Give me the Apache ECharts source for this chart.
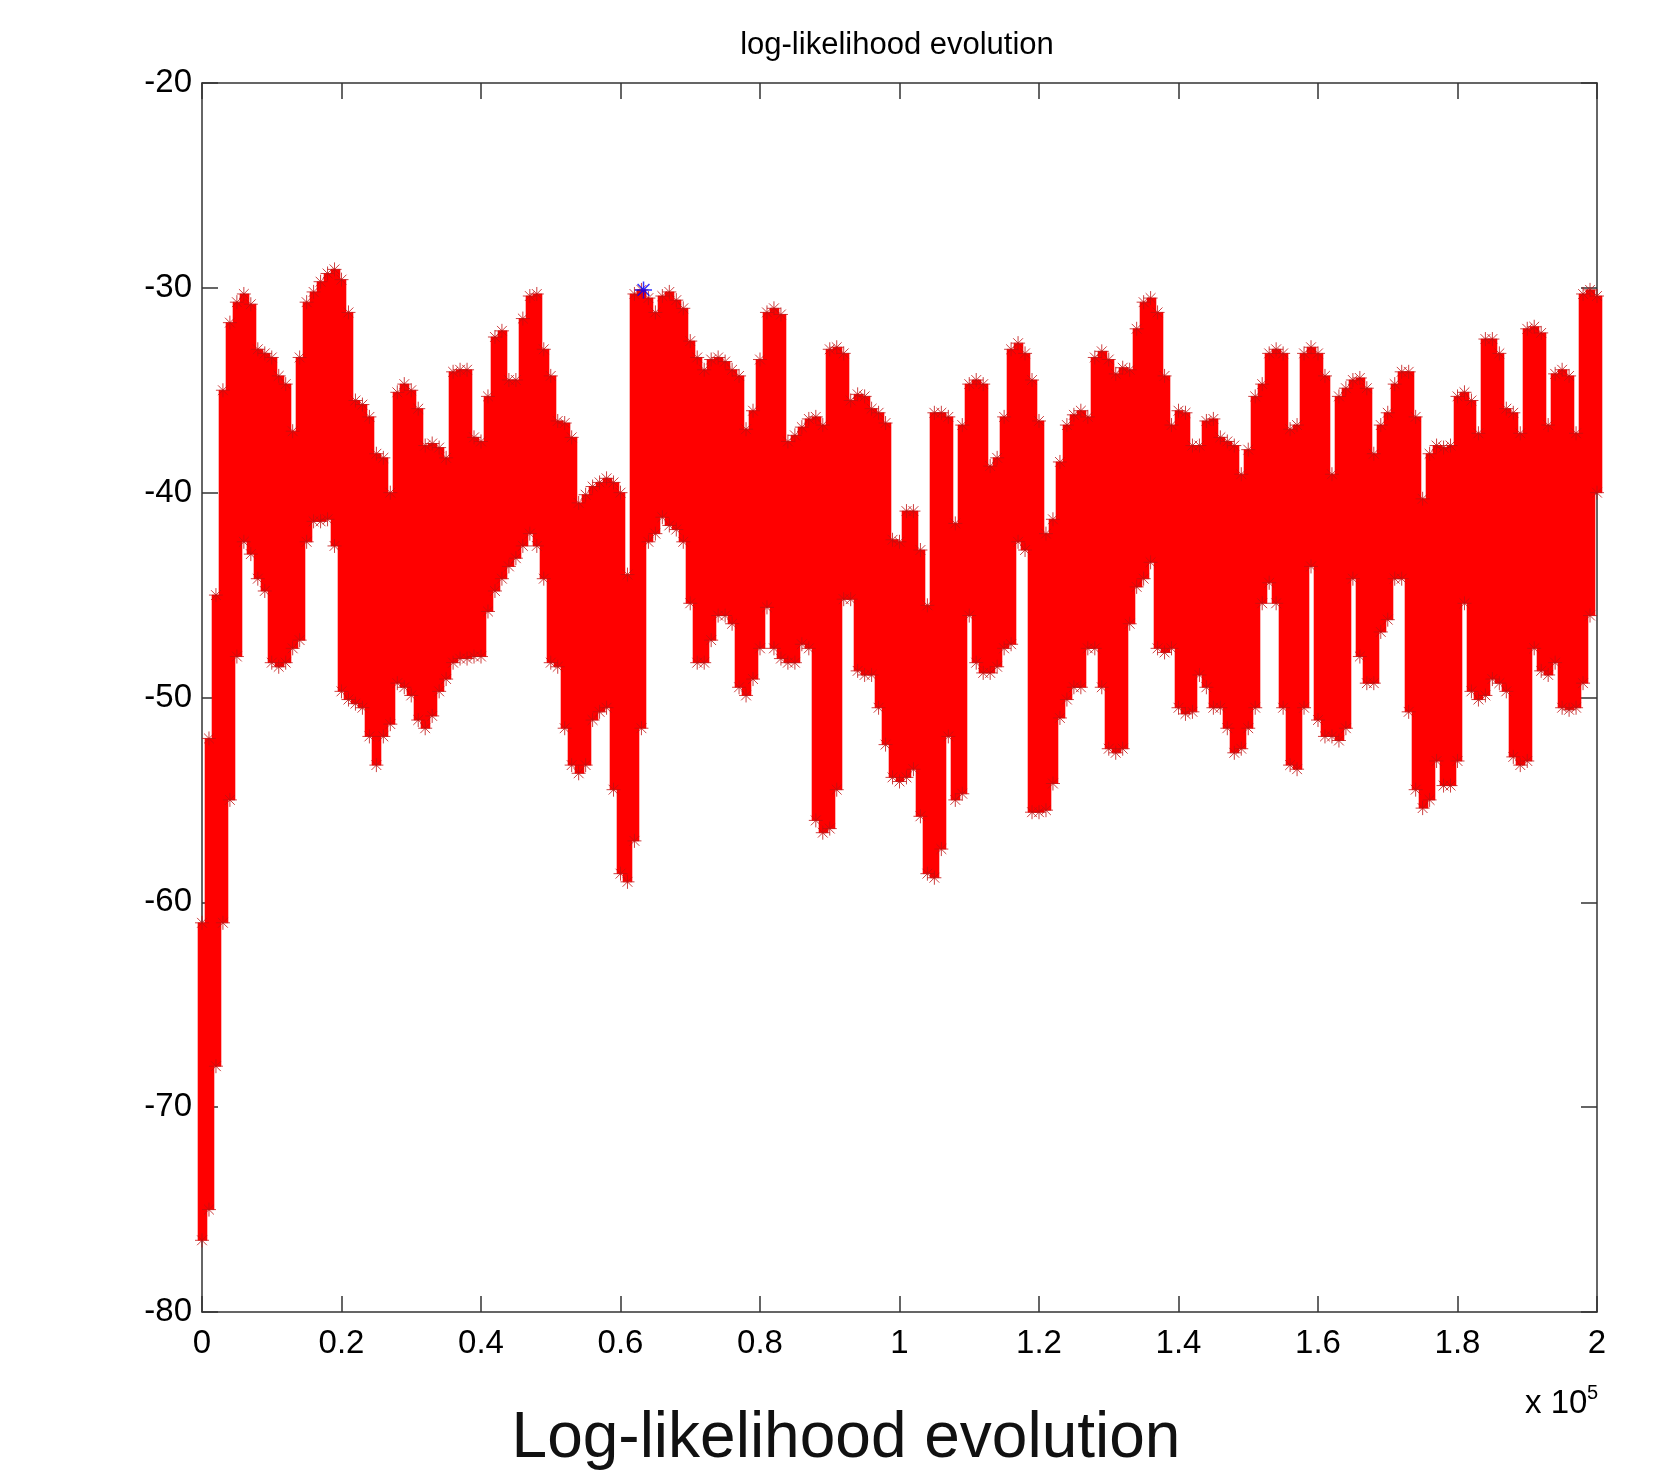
<!DOCTYPE html>
<html>
<head>
<meta charset="utf-8">
<script src="https://cdn.jsdelivr.net/npm/echarts@6/dist/echarts.min.js"></script>
<style>
html,body{margin:0;padding:0;background:#fff;}
#chart{width:1654px;height:1482px;}
</style>
</head>
<body>
<div id="chart"></div>
<script>
// Sampling grid: one sample every 1000 iterations (0 .. 200000)
const STEP = 1000;
const iterations = Array.from({length: 201}, (_, k) => k * STEP);

// Upper envelope of the log-likelihood trace
const upperLL = [
 -61,-52,-45,-35,-31.7,-30.7,-30.3,-30.8,-33,-33.2,
 -33.4,-34.3,-34.7,-37,-33.4,-30.7,-30.2,-29.7,-29.3,-29.1,
 -29.6,-31.2,-35.5,-35.7,-36.3,-38.1,-38.3,-40,-35.1,-34.7,
 -35,-35.9,-37.7,-37.6,-37.8,-38.3,-34.1,-34,-34,-37.3,
 -37.5,-35.3,-32.4,-32.1,-34.5,-34.5,-31.5,-30.4,-30.3,-33,
 -34.3,-36.5,-36.6,-37.3,-40.5,-40.1,-39.7,-39.5,-39.3,-39.5,
 -40,-44,-30.3,-30.1,-30.5,-31.2,-30.4,-30.2,-30.6,-31,
 -32.6,-33.4,-34,-33.5,-33.4,-33.6,-34,-34.3,-36.9,-36,
 -33.5,-31.2,-31.0,-31.3,-37.5,-37.2,-36.8,-36.4,-36.3,-36.7,
 -33,-32.9,-33.2,-35.5,-35.2,-35.3,-35.9,-36.1,-36.6,-42.3,
 -42.4,-40.9,-40.9,-42.8,-45.5,-36.1,-36.1,-36.3,-41.5,-36.7,
 -34.7,-34.5,-34.7,-38.7,-38.3,-36.3,-33,-32.7,-33.2,-34.5,
 -36.5,-42,-41.3,-38.5,-36.7,-36.2,-36,-36.3,-33.4,-33.1,
 -33.5,-34.2,-33.9,-34,-32,-30.7,-30.5,-31.2,-34.3,-36.7,
 -36,-36.1,-37.7,-37.7,-36.5,-36.4,-37.3,-37.5,-37.7,-39.1,
 -37.9,-35.3,-34.7,-33.2,-33,-33.2,-36.9,-36.7,-33.2,-32.9,
 -33.2,-34.3,-39.1,-35.3,-34.9,-34.5,-34.4,-34.9,-38.1,-36.7,
 -36.1,-34.7,-34.1,-34.1,-36.3,-40.3,-38.1,-37.7,-37.8,-37.7,
 -35.3,-35.1,-35.5,-37.1,-32.5,-32.5,-33.2,-35.9,-36.1,-37.1,
 -32,-31.9,-32.2,-36.7,-34.2,-34,-34.3,-37.1,-30.3,-30.1,
 -30.4
];

// Lower envelope of the log-likelihood trace
const lowerLL = [
 -76.5,-75,-68,-61,-55,-48,-42.4,-43,-44.2,-44.8,
 -48.3,-48.5,-48.3,-47.6,-47.2,-42.4,-41.4,-41.4,-41.3,-42.6,
 -49.7,-50.1,-50.3,-50.5,-51.9,-53.3,-51.9,-51.3,-49.3,-49.5,
 -49.9,-51.1,-51.5,-50.9,-49.7,-49.1,-48.3,-48.1,-48.1,-48,
 -48,-45.8,-44.8,-44.2,-43.6,-43.2,-42.6,-42,-42.6,-44.2,
 -48.3,-48.5,-51.5,-53.3,-53.7,-53.3,-51.1,-50.7,-50.5,-54.5,
 -58.6,-59,-57,-51.5,-42.4,-42,-41.2,-41.6,-41.8,-42.4,
 -45.4,-48.3,-48.3,-47.2,-46,-46,-46.4,-49.5,-49.9,-49.1,
 -47.6,-45.6,-47.6,-48.1,-48.3,-48.3,-47.4,-47.6,-56,-56.6,
 -56.4,-54.5,-45.2,-45.2,-48.7,-48.9,-48.9,-50.5,-52.3,-53.9,
 -54.1,-53.9,-53.5,-55.8,-58.6,-58.8,-57.4,-51.9,-55,-54.7,
 -46,-48.3,-48.8,-48.8,-48.5,-47.6,-47.4,-42.4,-42.8,-55.6,
 -55.6,-55.5,-54.2,-51,-50.1,-49.5,-49.5,-47.6,-47.6,-49.5,
 -52.5,-52.7,-52.5,-46.4,-44.6,-44.2,-43.4,-47.6,-47.8,-47.6,
 -50.5,-50.8,-50.7,-48.9,-49.5,-50.5,-50.5,-51.5,-52.7,-52.5,
 -51.5,-50.5,-45.4,-44.4,-45.4,-50.5,-53.3,-53.5,-50.5,-43.6,
 -51.1,-51.9,-51.9,-52.1,-51.5,-44.2,-48,-49.3,-49.3,-46.8,
 -46.2,-44.2,-44.2,-50.7,-54.5,-55.4,-55,-53.1,-54.3,-54.3,
 -53.1,-45.4,-49.7,-50.1,-49.9,-49.1,-49.3,-49.7,-52.9,-53.3,
 -53.1,-47.6,-48.7,-48.9,-48.3,-50.5,-50.6,-50.5,-49.3,-46,
 -40
];

// Best (maximum) sample, drawn as a blue star
const bestPoint = [[63300, -30.1]];

// Axis ticks
const xTicks = [0, 20000, 40000, 60000, 80000, 100000, 120000, 140000, 160000, 180000, 200000];
const yTicks = [-80, -70, -60, -50, -40, -30, -20];

const bandData = iterations.map((x, i) => [x, upperLL[i], lowerLL[i]]);
const edgePoints = iterations.map((x, i) => [x, upperLL[i]]).concat(iterations.map((x, i) => [x, lowerLL[i]]));

const FONT = '"Liberation Sans", Arial, Helvetica, sans-serif';
const STAR = 'path://M0,-1L0,1M-1,0L1,0M-0.7,-0.7L0.7,0.7M-0.7,0.7L0.7,-0.7';
const axisLineStyle = {color: '#333', width: 1.5};

const chart = echarts.init(document.getElementById('chart'), null, {renderer: 'canvas'});
chart.setOption({
  animation: false,
  backgroundColor: '#fff',
  grid: {left: 202, right: 57, top: 83, bottom: 170, containLabel: false},
  xAxis: [{
    type: 'value', min: xTicks[0], max: xTicks[xTicks.length - 1], interval: xTicks[1] - xTicks[0],
    position: 'bottom',
    axisLine: {show: true, onZero: false, lineStyle: axisLineStyle},
    axisTick: {show: true, inside: true, length: 16, lineStyle: axisLineStyle},
    splitLine: {show: false},
    axisLabel: {fontSize: 33, color: '#000', fontFamily: FONT, margin: 15,
      formatter: v => String(parseFloat((v / 1e5).toFixed(1)))}
  }, {
    type: 'value', min: xTicks[0], max: xTicks[xTicks.length - 1], interval: xTicks[1] - xTicks[0],
    position: 'top',
    axisLine: {show: true, onZero: false, lineStyle: axisLineStyle},
    axisTick: {show: true, inside: true, length: 16, lineStyle: axisLineStyle},
    splitLine: {show: false},
    axisLabel: {show: false}
  }],
  yAxis: [{
    type: 'value', min: yTicks[0], max: yTicks[yTicks.length - 1], interval: yTicks[1] - yTicks[0],
    position: 'left',
    axisLine: {show: true, onZero: false, lineStyle: axisLineStyle},
    axisTick: {show: true, inside: true, length: 16, lineStyle: axisLineStyle},
    splitLine: {show: false},
    axisLabel: {fontSize: 33, color: '#000', fontFamily: FONT, margin: 10}
  }, {
    type: 'value', min: yTicks[0], max: yTicks[yTicks.length - 1], interval: yTicks[1] - yTicks[0],
    position: 'right',
    axisLine: {show: true, onZero: false, lineStyle: axisLineStyle},
    axisTick: {show: true, inside: true, length: 16, lineStyle: axisLineStyle},
    splitLine: {show: false},
    axisLabel: {show: false}
  }],
  series: [{
    type: 'custom',
    xAxisIndex: 0, yAxisIndex: 0,
    data: bandData,
    encode: {x: 0, y: [1, 2]},
    renderItem: function (params, api) {
      const x = api.value(0), hi = api.value(1), lo = api.value(2);
      const p1 = api.coord([x - STEP / 2, hi]);
      const p2 = api.coord([x + STEP / 2, lo]);
      const x0 = Math.floor(p1[0]);
      return {
        type: 'rect',
        shape: {x: x0, y: p1[1], width: Math.ceil(p2[0]) - x0 + 1, height: p2[1] - p1[1]},
        style: {fill: '#ff0000', stroke: '#ff0000', lineWidth: 0.6}
      };
    },
    z: 2
  }, {
    type: 'scatter',
    xAxisIndex: 0, yAxisIndex: 0,
    data: edgePoints,
    symbol: STAR,
    symbolSize: 14,
    itemStyle: {color: 'rgba(0,0,0,0)', borderColor: '#c01010', borderWidth: 1},
    z: 3
  }, {
    type: 'scatter',
    xAxisIndex: 0, yAxisIndex: 0,
    data: bestPoint,
    symbol: STAR,
    symbolSize: 17,
    itemStyle: {color: 'rgba(0,0,0,0)', borderColor: '#0000ff', borderWidth: 1.5},
    z: 4
  }],
  graphic: [
    {type: 'text', x: 897, y: 45, style: {text: 'log-likelihood evolution', fontSize: 31, fontFamily: FONT, fill: '#000', textAlign: 'center', textVerticalAlign: 'middle'}},
    {type: 'text', x: 1525, y: 1404, style: {text: 'x 10', fontSize: 33, fontFamily: FONT, fill: '#000', textAlign: 'left', textVerticalAlign: 'middle'}},
    {type: 'text', x: 1587, y: 1383, style: {text: '5', fontSize: 20, fontFamily: FONT, fill: '#000', textAlign: 'left', textVerticalAlign: 'top'}},
    {type: 'text', x: 846, y: 1439, style: {text: 'Log-likelihood evolution', fontSize: 64, fontFamily: FONT, fill: '#111', textAlign: 'center', textVerticalAlign: 'middle'}}
  ]
});
</script>
</body>
</html>
